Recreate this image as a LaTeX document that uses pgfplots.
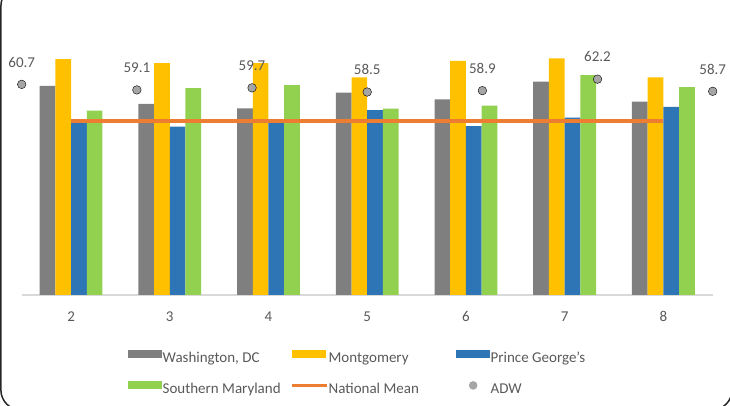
\documentclass[border=0pt]{standalone}
\usepackage{fontspec}
\setmainfont{Carlito}
\usepackage{pgfplots}
\pgfplotsset{compat=1.18}
\definecolor{cGray}{HTML}{7F7F7F}
\definecolor{cGold}{HTML}{FFC000}
\definecolor{cBlue}{HTML}{2E75B6}
\definecolor{cGreen}{HTML}{92D050}
\definecolor{cOrange}{HTML}{ED7D31}
\definecolor{cDot}{HTML}{A5A5A5}
\definecolor{cText}{HTML}{595959}
\definecolor{cAxis}{HTML}{D9D9D9}
\frenchspacing
\newcommand{\lt}[1]{\makebox[127pt][l]{\frenchspacing #1}}
\begin{document}
\begin{tikzpicture}[x=1pt,y=1pt]
\useasboundingbox (0,0) rectangle (730,406);
\begin{scope}
\clip (0,0) rectangle (730,406);
\draw[line width=1.5pt, color=black!85, rounded corners=20pt] (0.9,-4) rectangle (732,420);
\end{scope}
\begin{axis}[
  at={(21.7pt,111pt)}, anchor=south west,
  scale only axis, width=691pt, height=242.9pt,
  xmin=1.5, xmax=8.5, ymin=0, ymax=70,
  axis x line*=bottom, hide y axis,
  x axis line style={draw=cAxis, line width=1.3pt},
  xtick={2,3,4,5,6,7,8}, major tick length=0pt,
  /pgf/number format/assume math mode=true,
  xticklabel style={font=\fontsize{15}{18}\selectfont, text=cText, anchor=base, yshift=-26.9pt},
  clip=false,
  legend columns=3,
  legend cell align=left,
  legend style={at={(0.1538,-0.2203)}, anchor=north west, draw=none, fill=none, inner sep=0pt,
    row sep=14.7pt, font=\fontsize{15}{18}\selectfont\frenchspacing, text=cText,
    nodes={text height=10pt, text depth=3pt, inner sep=0.5pt}},
]
\addplot[ybar, bar width=15.7pt, bar shift=-23.55pt, fill=cGray, draw=none,
  legend image code/.code={\path[draw=none,fill=none] (0pt,-3pt) rectangle (34pt,10pt); \fill[cGray] (0pt,1pt) rectangle (34pt,9pt);}]
  coordinates {(2,60.3) (3,55.1) (4,53.8) (5,58.3) (6,56.4) (7,61.5) (8,55.7)};
\addlegendentry{\lt{Washington, DC}}
\addplot[ybar, bar width=15.7pt, bar shift=-7.85pt, fill=cGold, draw=none,
  legend image code/.code={\path[draw=none,fill=none] (0pt,-3pt) rectangle (34pt,10pt); \fill[cGold] (0pt,1pt) rectangle (34pt,9pt);}]
  coordinates {(2,68.0) (3,66.8) (4,66.8) (5,62.7) (6,67.5) (7,68.2) (8,62.7)};
\addlegendentry{\lt{Montgomery}}
\addplot[ybar, bar width=15.7pt, bar shift=7.85pt, fill=cBlue, draw=none,
  legend image code/.code={\path[draw=none,fill=none] (0pt,-3pt) rectangle (34pt,10pt); \fill[cBlue] (0pt,1pt) rectangle (34pt,9pt);}]
  coordinates {(2,49.8) (3,48.5) (4,49.8) (5,53.3) (6,48.7) (7,51.1) (8,54.2)};
\addlegendentry{\lt{Prince George's}}
\addplot[ybar, bar width=15.7pt, bar shift=23.55pt, fill=cGreen, draw=none,
  legend image code/.code={\path[draw=none,fill=none] (0pt,-3pt) rectangle (34pt,10pt); \fill[cGreen] (0pt,1pt) rectangle (34pt,9pt);}]
  coordinates {(2,53.1) (3,59.6) (4,60.5) (5,53.7) (6,54.6) (7,63.4) (8,59.9)};
\addlegendentry{\lt{Southern Maryland}}
\addplot[sharp plot, draw=cOrange, line width=3.5pt, mark=none,
  legend image code/.code={\path[draw=none,fill=none] (0pt,-3pt) rectangle (34pt,10pt); \draw[cOrange, line width=3pt] (0pt,5pt) -- (35pt,5pt);}]
  coordinates {(2,50.2) (3,50.2) (4,50.2) (5,50.2) (6,50.2) (7,50.2) (8,50.2)};
\addlegendentry{\lt{National Mean}}
\addlegendimage{legend image code/.code={\path[draw=none,fill=none] (0pt,-3pt) rectangle (34pt,10pt); \fill[cDot, draw=none] (17pt,5pt) circle (4.3pt);}}
\addlegendentry{\lt{ADW}}
\end{axis}
\begin{axis}[
  at={(21.7pt,111pt)}, anchor=south west,
  scale only axis, width=691pt, height=242.9pt,
  xmin=2, xmax=8, ymin=0, ymax=70,
  hide axis, clip=false,
]
\addplot[only marks, mark=*, mark size=4.3pt, mark options={fill=cDot, draw=none},
  nodes near coords={\pgfmathprintnumber[fixed, precision=1, fixed zerofill, assume math mode=true]{\pgfplotspointmeta}},
  nodes near coords style={font=\fontsize{15}{18}\selectfont, text=cText, anchor=base, yshift=17.2pt, inner sep=0pt}]
  coordinates {(2,60.7) (3,59.1) (4,59.7) (5,58.5) (6,58.9) (7,62.2) (8,58.7)};
\end{axis}
\end{tikzpicture}
\end{document}
